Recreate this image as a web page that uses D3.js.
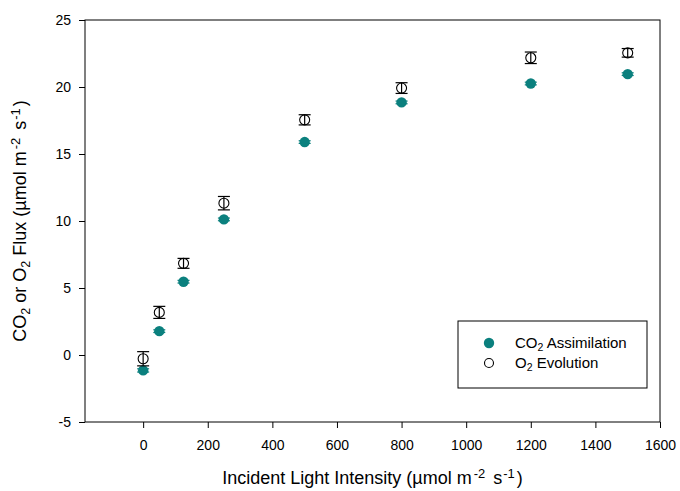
<!DOCTYPE html>
<html>
<head>
<meta charset="utf-8">
<script src="https://cdn.jsdelivr.net/npm/d3@7"></script>
<style>
  body { margin: 0; background: #fff; }
  svg { font-family: "Liberation Sans", Arial, sans-serif; }
  .axis path, .axis line { stroke: #000; stroke-width: 1; }
  .axis text { font-size: 14px; fill: #000; }
</style>
</head>
<body>
<svg width="680" height="491"></svg>
<script>
// light intensity levels (x)
var light = [0, 50, 125, 250, 500, 800, 1200, 1500];
// CO2 assimilation, mean and error
var co2 = [-1.15, 1.78, 5.47, 10.12, 15.89, 18.85, 20.26, 20.96];
var co2Err = [0.12, 0.1, 0.1, 0.1, 0.1, 0.1, 0.1, 0.1];
// O2 evolution, mean and error
var o2 = [-0.28, 3.18, 6.84, 11.33, 17.55, 19.92, 22.18, 22.55];
var o2Err = [0.53, 0.45, 0.37, 0.5, 0.38, 0.4, 0.43, 0.32];

var xTicks = [0, 200, 400, 600, 800, 1000, 1200, 1400, 1600];
var yTicks = [-5, 0, 5, 10, 15, 20, 25];

var teal = "#0b807e";

var svg = d3.select("svg"),
    width = +svg.attr("width"),
    height = +svg.attr("height");
var margin = {top: 20, right: 20, bottom: 69, left: 85};

var x = d3.scaleLinear()
  .domain([-180, 1600])
  .range([margin.left, width - margin.right]);

var y = d3.scaleLinear()
  .domain([-5, 25])
  .range([height - margin.bottom, margin.top]);

// frame
svg.append("rect")
  .attr("x", x.range()[0])
  .attr("y", y.range()[1])
  .attr("width", x.range()[1] - x.range()[0])
  .attr("height", y.range()[0] - y.range()[1])
  .attr("fill", "none")
  .attr("stroke", "#000");

var plain = function(d) { return String(d); };

svg.append("g")
  .attr("class", "axis")
  .attr("transform", "translate(0," + y.range()[0] + ")")
  .call(d3.axisBottom(x).tickValues(xTicks).tickFormat(plain).tickSize(6).tickPadding(12).tickSizeOuter(0))
  .call(function(g) { g.select(".domain").remove(); });

svg.append("g")
  .attr("class", "axis")
  .attr("transform", "translate(" + x.range()[0] + ",0)")
  .call(d3.axisLeft(y).tickValues(yTicks).tickFormat(plain).tickSize(6).tickPadding(8).tickSizeOuter(0))
  .call(function(g) { g.select(".domain").remove(); });

var data = light.map(function(d, i) {
  return {x: d, co2: co2[i], co2e: co2Err[i], o2: o2[i], o2e: o2Err[i]};
});

// error bars
function errBars(key, errKey, color) {
  var g = svg.append("g").attr("stroke", color).attr("stroke-width", 1.2);
  data.forEach(function(d) {
    var cx = x(d.x), hi = y(d[key] + d[errKey]), lo = y(d[key] - d[errKey]);
    g.append("line").attr("x1", cx).attr("x2", cx).attr("y1", hi).attr("y2", lo);
    g.append("line").attr("x1", cx - 6).attr("x2", cx + 6).attr("y1", hi).attr("y2", hi);
    g.append("line").attr("x1", cx - 6).attr("x2", cx + 6).attr("y1", lo).attr("y2", lo);
  });
}

errBars("co2", "co2e", teal);
svg.append("g").selectAll("circle")
  .data(data).enter()
  .append("circle")
  .attr("cx", function(d) { return x(d.x); })
  .attr("cy", function(d) { return y(d.co2); })
  .attr("r", 5.2)
  .attr("fill", teal);

errBars("o2", "o2e", "#000");
svg.append("g").selectAll("circle")
  .data(data).enter()
  .append("circle")
  .attr("cx", function(d) { return x(d.x); })
  .attr("cy", function(d) { return y(d.o2); })
  .attr("r", 5)
  .attr("fill", "none")
  .attr("stroke", "#000")
  .attr("stroke-width", 1.1);

// legend
var lg = svg.append("g").attr("transform", "translate(458,321)");
lg.append("rect").attr("width", 189).attr("height", 67)
  .attr("fill", "#fff").attr("stroke", "#000");
lg.append("circle").attr("cx", 31).attr("cy", 22).attr("r", 5.2).attr("fill", teal);
lg.append("circle").attr("cx", 31).attr("cy", 42).attr("r", 4.5)
  .attr("fill", "none").attr("stroke", "#000").attr("stroke-width", 1.1);

// text with sub/superscript parts: [text, kind, dx]
function chemText(sel, parts, size) {
  parts.forEach(function(p) {
    var t = sel.append("tspan").text(p[0]);
    if (p[1] === "sub") t.attr("baseline-shift", "-30%").attr("font-size", size * 0.7);
    if (p[1] === "sup") t.attr("baseline-shift", "45%").attr("font-size", size * 0.72);
    if (p[2]) t.attr("dx", p[2]);
  });
}

chemText(lg.append("text").attr("x", 57).attr("y", 27).attr("font-size", 15),
  [["CO"], ["2", "sub"], [" Assimilation"]], 15);
chemText(lg.append("text").attr("x", 57).attr("y", 47).attr("font-size", 15),
  [["O"], ["2", "sub"], [" Evolution"]], 15);

// axis titles
chemText(svg.append("text")
  .attr("x", (x.range()[0] + x.range()[1]) / 2)
  .attr("y", 484)
  .attr("text-anchor", "middle")
  .attr("font-size", 18),
  [["Incident Light Intensity (\u00b5mol m"], ["-2", "sup", 2], [" s", null, 3], ["-1", "sup", 1], [")", null, 2]], 18);

chemText(svg.append("text")
  .attr("transform", "translate(26," + ((y.range()[0] + y.range()[1]) / 2) + ") rotate(-90)")
  .attr("text-anchor", "middle")
  .attr("font-size", 18),
  [["CO"], ["2", "sub"], [" or O"], ["2", "sub"], [" Flux (\u00b5mol m"], ["-2", "sup", 2], [" s", null, 3], ["-1", "sup", 1], [")", null, 2]], 18);
</script>
</body>
</html>
